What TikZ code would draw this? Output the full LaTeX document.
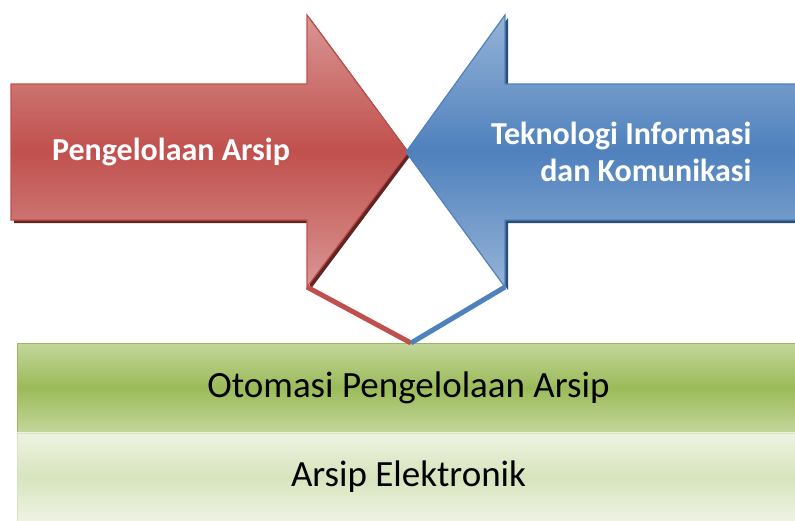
\documentclass[tikz,border=0pt]{standalone}
\usepackage{fontspec}
\setmainfont{Carlito}
\usetikzlibrary{positioning}

\definecolor{arsipred}{HTML}{C0504D}
\definecolor{arsipredlight}{HTML}{D99694}
\definecolor{arsipreddark}{HTML}{632523}
\definecolor{tikblue}{HTML}{4F81BD}
\definecolor{tikbluelight}{HTML}{95B3D7}
\definecolor{tikbluedark}{HTML}{2C4D75}
\definecolor{otogreen}{HTML}{9BBB59}
\definecolor{otogreenlight}{HTML}{C3D69B}
\definecolor{elkgreen}{HTML}{EEF3E2}
\definecolor{elkgreendark}{HTML}{D7E4BD}

\begin{document}
\begin{tikzpicture}[x=1pt, y=-1pt,
    arrowtext/.style={text=white, font=\bfseries\fontsize{32}{37}\selectfont},
    bartext/.style={text=black, font=\fontsize{37}{42}\selectfont},
    redbody/.style={draw=arsipred, line width=1.2pt, top color=arsipredlight, bottom color=arsipredlight, middle color=arsipred},
    bluebody/.style={draw=tikblue, line width=1.2pt, top color=tikbluelight, bottom color=tikbluelight, middle color=tikblue},
    legline/.style={line width=5pt}]
  \clip (0,0) rectangle (795,520);

  % bars
  \node (otobar) [draw=otogreen, line width=1pt, top color=otogreenlight, bottom color=otogreenlight, middle color=otogreen,
    minimum width=783pt, minimum height=89pt, inner sep=0pt] at (408.5,387.5) {};
  \node (elkbar) [draw=elkgreendark, line width=0.5pt, shading angle=-20,
    top color=elkgreen, bottom color=elkgreen, middle color=elkgreendark,
    minimum width=783pt, minimum height=88pt, inner sep=0pt, below=0pt of otobar] {};
  \node (oto) at (otobar.center) [bartext] {Otomasi Pengelolaan Arsip};
  \node (elk) at (elkbar.center) [bartext] {Arsip Elektronik};

  % shadows
  \fill[arsipreddark] (14,87) -- (310,87) -- (310,18) -- (411,155) -- (310,290) -- (310,223) -- (14,223) -- cycle;
  \fill[tikbluedark] (800,87) -- (508,87) -- (508,18) -- (409,155) -- (508,290) -- (508,223) -- (800,223) -- cycle;

  % arrows
  \draw[redbody] (11,84) coordinate (redtail) -- (307,84) -- (307,15) -- (408,152) coordinate (redtip)
    -- (307,287) coordinate (redfoot) -- (307,220) -- (11,220) -- cycle;
  \draw[bluebody] (800,84) -- (505,84) -- (505,15) -- (406,152) coordinate (bluetip)
    -- (505,287) coordinate (bluefoot) -- (505,220) -- (800,220) -- cycle;

  \node (pengelolaan) at (171,152) [arrowtext] {Pengelolaan Arsip};
  \node (tik) at (755,152) [arrowtext, anchor=east, align=right] {Teknologi Informasi\\dan Komunikasi};

  % links to the bar
  \coordinate (meet) at (411,343);
  \draw[legline, arsipred] (redfoot) -- (meet);
  \draw[legline, tikblue] (meet) -- (bluefoot);
\end{tikzpicture}
\end{document}
